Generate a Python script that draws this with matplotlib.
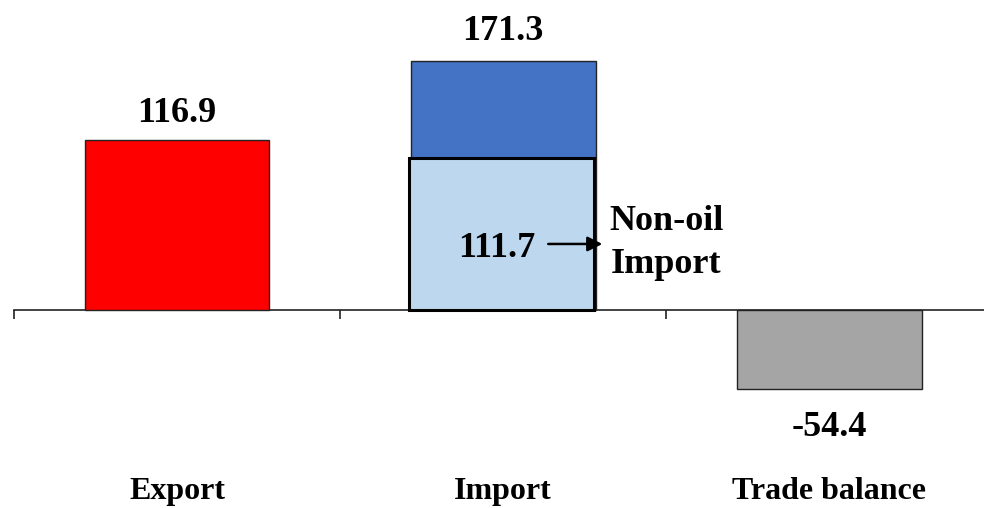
import matplotlib.pyplot as plt

categories = ["Export", "Import", "Trade balance"]
values = [116.9, 171.3, -54.4]
nonoil_value = 111.7
nonoil_bar = 104.5  # height of the light bar as drawn in the picture
colors = ["#FF0000", "#4472C4", "#A5A5A5"]

plt.rcParams['font.family'] = ['Liberation Serif', 'DejaVu Serif']
plt.rcParams['font.weight'] = 'bold'
fs = 26
cfs = 23

fig = plt.figure(figsize=(9.84, 5.08), dpi=100)
ax = fig.add_axes([0, 0, 1, 1])
ax.set_xlim(-0.543, 2.475)
ax.set_ylim(-136.2, 213.2)

x = range(len(categories))
w = 0.567
ax.bar(x, values, width=w, color=colors, edgecolor="#222222", linewidth=1.0, zorder=2)
ax.bar(0.994, nonoil_bar, width=w, color="#BDD7EE", edgecolor="black", linewidth=2.2, zorder=3)

# axis line at zero with ticks between categories
for s in ["top", "right", "left"]:
    ax.spines[s].set_visible(False)
ax.spines["bottom"].set_position(("data", 0))
ax.spines["bottom"].set_bounds(-0.5, 2.6)
ax.spines["bottom"].set_linewidth(1.2)
ax.spines["bottom"].set_color("#222222")
ax.spines["bottom"].set_zorder(1)
ax.set_xticks([-0.5, 0.5, 1.5])
ax.set_xticklabels([])
ax.tick_params(axis="x", direction="out", length=6.5, width=1.2, color="#222222")
ax.set_yticks([])

# value labels
offsets = [13, 15, -34]
for i, v in enumerate(values):
    ax.annotate(f"{v:.1f}", (i, v), xytext=(0, offsets[i]), textcoords="offset points",
                ha="center", va="baseline", fontsize=fs, fontweight="bold")

ax.text(0.98, 36.5, f"{nonoil_value:.1f}", ha="center", va="baseline", fontsize=fs, fontweight="bold", zorder=5)
ax.annotate("", xy=(1.313, 45.4), xytext=(1.13, 45.4),
            arrowprops=dict(arrowstyle="-|>", color="black", lw=1.8, mutation_scale=22), zorder=5)
ax.text(1.5, 55, "Non-oil", ha="center", va="baseline", fontsize=fs, fontweight="bold")
ax.text(1.5, 25.4, "Import", ha="center", va="baseline", fontsize=fs, fontweight="bold")

# category labels
for i, c in enumerate(categories):
    ax.text(i, 0.018, c, transform=ax.get_xaxis_transform(), ha="center", va="baseline",
            fontsize=cfs, fontweight="bold")

plt.savefig("out.png", dpi=100)
